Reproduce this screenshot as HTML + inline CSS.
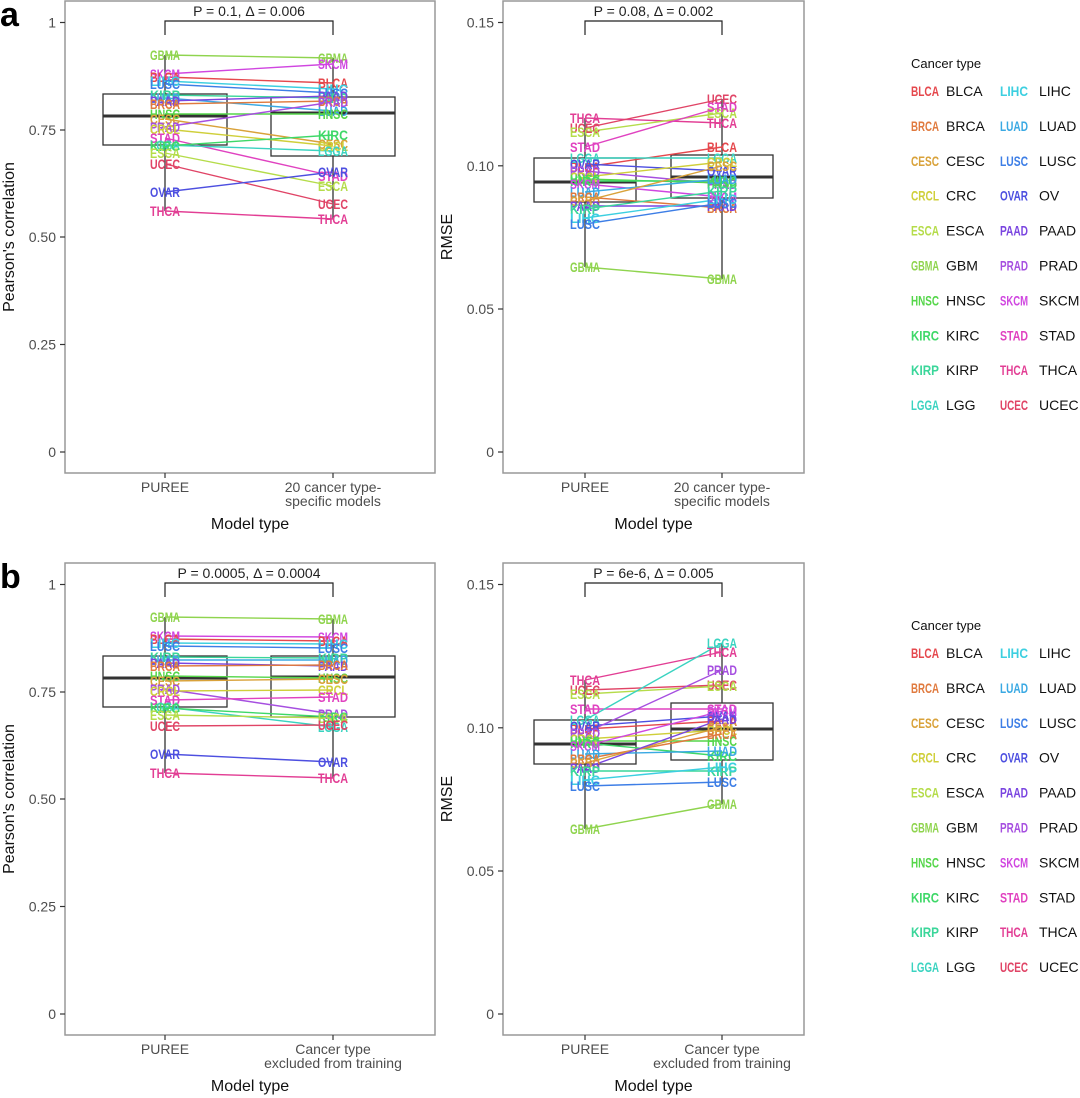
<!DOCTYPE html>
<html><head><meta charset="utf-8">
<style>
html,body{margin:0;padding:0;background:#fff;}
svg{display:block;font-family:"Liberation Sans",Arial,sans-serif;}
</style></head>
<body>
<svg id="s" width="1080" height="1098" viewBox="0 0 1080 1098" xmlns="http://www.w3.org/2000/svg"></svg>
<script>
const C={BLCA:"#e5484d",BRCA:"#e07a3e",CESC:"#d9a23a",CRCL:"#cfcf3a",ESCA:"#b5dc4a",GBMA:"#8fd44e",HNSC:"#55d64a",KIRC:"#3ed868",KIRP:"#3ad69a",LGGA:"#3ad3c0",LIHC:"#3ccfe0",LUAD:"#3aa9e3",LUSC:"#3d7ee6",OVAR:"#4d4fe0",PAAD:"#7a45e0",PRAD:"#a64fe0",SKCM:"#d046e0",STAD:"#e042c0",THCA:"#e23e94",UCEC:"#e04466"};
let h="";
function t(x,y,s,o){o=o||{};h+=`<text x="${x}" y="${y}" font-size="${o.fs||14}" fill="${o.c||'#4d4d4d'}" text-anchor="${o.a||'middle'}" ${o.w?'font-weight="bold"':''} ${o.tl?`textLength="${o.tl}" lengthAdjust="spacingAndGlyphs"`:''}>${s}</text>`;}
function L(x1,y1,x2,y2,c,w){h+=`<line x1="${x1}" y1="${y1}" x2="${x2}" y2="${y2}" stroke="${c}" stroke-width="${w||1.2}"/>`;}
function panel(o){
 const {fx,fw,fy,x1,x2,ticks,ylab,pv,b1,b2,d1,d2,xl2}=o;
 const fh=472;
 h+=`<rect x="${fx}" y="${fy}" width="${fw}" height="${fh}" fill="#fff" stroke="#999" stroke-width="1.5"/>`;
 ticks.forEach(([v,y])=>{L(fx-5,fy+y,fx,fy+y,"#333",1.2);t(fx-9,fy+y+5,v,{a:'end'});});
 [x1,x2].forEach(x=>L(x,fy+fh,x,fy+fh+5,"#333",1.2));
 [[x1,b1],[x2,b2]].forEach(([x,b])=>{
  L(x,fy+b.wt,x,fy+b.q1,"#333",1.3);L(x,fy+b.q3,x,fy+b.wb,"#333",1.3);
  h+=`<rect x="${x-b.hw}" y="${fy+b.q1}" width="${2*b.hw}" height="${b.q3-b.q1}" fill="none" stroke="#333" stroke-width="1.3"/>`;
  L(x-b.hw,fy+b.m,x+b.hw,fy+b.m,"#333",3);
 });
 for(const k in d1){L(x1,fy+d1[k],x2,fy+d2[k],C[k],1.4);}
 for(const k in d1){t(x1,fy+d1[k]+5,k,{fs:14,w:1,c:C[k],tl:30});t(x2,fy+d2[k]+5,k,{fs:14,w:1,c:C[k],tl:30});}
 h+=`<path d="M${x1} ${fy+34}V${fy+20}H${x2}V${fy+34}" fill="none" stroke="#222" stroke-width="1.2"/>`;
 t((x1+x2)/2,fy+15,pv,{fs:14,c:'#222'});
 t(x1,fy+491,"PUREE");
 t(x2,fy+491,xl2[0]);t(x2,fy+505,xl2[1]);
 t(fx+fw/2,fy+528,"Model type",{fs:16,c:'#111'});
 const cy=fy+fh/2;
 h+=`<text x="0" y="0" font-size="16" fill="#111" text-anchor="middle" transform="translate(${fx-51},${cy}) rotate(-90)">${ylab}</text>`;
}
const tL=[["1",21.5],["0.75",129],["0.50",236],["0.25",343.5],["0",451]];
const tR=[["0.15",21.5],["0.10",164.8],["0.05",308],["0",451]];
const aL1={GBMA:54,SKCM:73,BLCA:76,LIHC:80,LUSC:83,KIRP:94,LUAD:97,PAAD:100,BRCA:103,HNSC:113,CESC:118,PRAD:126,CRCL:128,STAD:137,LGGA:144,KIRC:145,ESCA:152,UCEC:163,OVAR:191,THCA:210};
const aL2={GBMA:57,SKCM:63,BLCA:82,LIHC:88,LUSC:92,KIRP:97,LUAD:110,PAAD:95,BRCA:100,HNSC:113,CESC:143,PRAD:101,CRCL:145,STAD:175,LGGA:150,KIRC:134,ESCA:185,UCEC:203,OVAR:171,THCA:218};
const aR1={THCA:117,UCEC:127,ESCA:131,STAD:146,BLCA:166,LGGA:157,OVAR:163,PRAD:170,CRCL:176,HNSC:178,KIRC:180,SKCM:183,LUAD:191,BRCA:196,CESC:200,PAAD:205,KIRP:208,LIHC:217,LUSC:223,GBMA:266};
const aR2={THCA:122,UCEC:98,ESCA:112,STAD:106,BLCA:146,LGGA:157,OVAR:170,PRAD:183,CRCL:161,HNSC:182,KIRC:180,SKCM:196,LUAD:178,BRCA:207,CESC:165,PAAD:205,KIRP:190,LIHC:198,LUSC:202,GBMA:278};
const bL2={GBMA:56,SKCM:74,BLCA:78,LIHC:81,LUSC:85,KIRP:95,LUAD:97,PAAD:103,BRCA:102,HNSC:115,CESC:116,PRAD:151,CRCL:127,STAD:134,LGGA:164,KIRC:154,ESCA:155,UCEC:162,OVAR:199,THCA:215};
const bR2={LGGA:80,THCA:89,PRAD:107,UCEC:122,ESCA:123,STAD:146,SKCM:148,OVAR:153,PAAD:156,BLCA:158,CESC:164,CRCL:167,HNSC:178,LUAD:188,KIRC:193,LIHC:204,KIRP:208,BRCA:171,LUSC:219,GBMA:241};
const xlA=["20 cancer type-","specific models"], xlB=["Cancer type","excluded from training"];
const boxL={hw:62,q1:93,q3:144,m:115,wt:54,wb:210};
const boxR={hw:51,q1:157,q3:201,m:181,wt:117,wb:266};
panel({fx:65,fw:370,fy:1,x1:165,x2:333,ticks:tL,ylab:"Pearson's correlation",pv:"P = 0.1, Δ = 0.006",b1:boxL,b2:{hw:62,q1:96,q3:155,m:112,wt:57,wb:218},d1:aL1,d2:aL2,xl2:xlA});
panel({fx:503,fw:301,fy:1,x1:585,x2:722,ticks:tR,ylab:"RMSE",pv:"P = 0.08, Δ = 0.002",b1:boxR,b2:{hw:51,q1:154,q3:197,m:176,wt:98,wb:278},d1:aR1,d2:aR2,xl2:xlA});
panel({fx:65,fw:370,fy:563,x1:165,x2:333,ticks:tL,ylab:"Pearson's correlation",pv:"P = 0.0005, Δ = 0.0004",b1:boxL,b2:{hw:62,q1:93,q3:154,m:114,wt:56,wb:215},d1:aL1,d2:bL2,xl2:xlB});
panel({fx:503,fw:301,fy:563,x1:585,x2:722,ticks:tR,ylab:"RMSE",pv:"P = 6e-6, Δ = 0.005",b1:boxR,b2:{hw:51,q1:140,q3:197,m:166,wt:80,wb:241},d1:aR1,d2:bR2,xl2:xlB});
h+=`<text x="0" y="26" font-size="34" font-weight="bold" fill="#000">a</text>`;
h+=`<text x="0" y="588" font-size="34" font-weight="bold" fill="#000">b</text>`;
const names=[["BLCA","BLCA","LIHC","LIHC"],["BRCA","BRCA","LUAD","LUAD"],["CESC","CESC","LUSC","LUSC"],["CRCL","CRC","OVAR","OV"],["ESCA","ESCA","PAAD","PAAD"],["GBMA","GBM","PRAD","PRAD"],["HNSC","HNSC","SKCM","SKCM"],["KIRC","KIRC","STAD","STAD"],["KIRP","KIRP","THCA","THCA"],["LGGA","LGG","UCEC","UCEC"]];
[0,562].forEach(off=>{
 t(911,off+68,"Cancer type",{fs:13,c:'#111',a:'start'});
 names.forEach((r,i)=>{const y=off+96+i*34.9;
  t(925,y,r[0],{fs:14,w:1,c:C[r[0]],tl:28});
  t(946,y,r[1],{fs:14,c:'#111',a:'start'});
  t(1014,y,r[2],{fs:14,w:1,c:C[r[2]],tl:28});
  t(1039,y,r[3],{fs:14,c:'#111',a:'start'});
 });
});
document.getElementById("s").innerHTML=h;
</script>
</body></html>
